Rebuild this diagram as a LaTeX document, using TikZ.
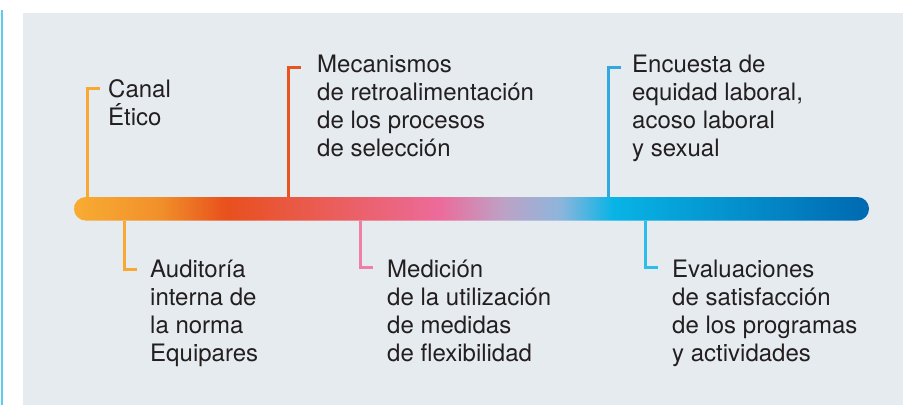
\documentclass[tikz,border=0pt]{standalone}
\usepackage{fontspec}
\setmainfont{TeX Gyre Heros}
\usepackage{xcolor}

\definecolor{panel}{HTML}{E6EBEF}
\definecolor{frameblue}{HTML}{5CCBF0}
\definecolor{txt}{HTML}{231F20}
\definecolor{tkorange}{HTML}{F9A933}
\definecolor{tkred}{HTML}{E9541E}
\definecolor{tkpink}{HTML}{EE7FA6}
\definecolor{tkblue}{HTML}{33A7E0}
\definecolor{tkcyan}{HTML}{2CBDEB}
% bar colours
\definecolor{sA}{HTML}{F8AC33}
\definecolor{sB}{HTML}{F1902A}
\definecolor{sC}{HTML}{E8501C}
\definecolor{sD}{HTML}{EC6B9B}
\definecolor{sE}{HTML}{BCA3C7}
\definecolor{sF}{HTML}{8DB5DC}
\definecolor{sG}{HTML}{08B4E6}
\definecolor{sH}{HTML}{0069B1}
\pgfdeclarehorizontalshading{barshade}{100bp}{color(0bp)=(sA); color(25bp)=(sA);
  color(30.4bp)=(sB); color(34.6bp)=(sC); color(48bp)=(sD); color(52.1bp)=(sE);
  color(55.6bp)=(sF); color(58.9bp)=(sG); color(75bp)=(sH); color(100bp)=(sH)}

\begin{document}
\begin{tikzpicture}[x=1pt,y=-1pt,
    tick/.style={line width=3pt,#1},
    timebar/.style={shading=barshade,rounded corners=11.7pt,minimum width=795pt,
        minimum height=23.5pt,inner sep=0pt},
    itemtext/.style={anchor=north west,inner sep=0pt,align=left,text=txt,
        font=\fontsize{24}{28}\selectfont}]
    \useasboundingbox (0,0) rectangle (903,405);
    % panel
    \fill[panel] (23,13) rectangle (903,405);
    \draw[frameblue,line width=2pt] (2,10) -- (2,405);
    % bar
    \node[timebar] (bar) at (471.5,208.8) {};
    % items
    \node[itemtext] (canal) at (108,73) {\rule{0pt}{24pt}Canal\\Ético};
    \node[itemtext] (meca) at (317,48) {\rule{0pt}{24pt}Mecanismos\\de retroalimentación\\de los procesos\\de selección};
    \node[itemtext] (encu) at (632,48) {\rule{0pt}{24pt}Encuesta de\\equidad laboral,\\acoso laboral\\y sexual};
    \node[itemtext] (audi) at (150,253) {\rule{0pt}{24pt}Auditoría\\interna de\\la norma\\Equipares};
    \node[itemtext] (medi) at (387,253) {\rule{0pt}{24pt}Medición\\de la utilización\\de medidas\\de flexibilidad};
    \node[itemtext] (eval) at (672,253) {\rule{0pt}{24pt}Evaluaciones\\de satisfacción\\de los programas\\y actividades};
    % ticks
    \coordinate (q1) at (87,88);
    \coordinate (q2) at (288,67);
    \coordinate (q3) at (608,67);
    \coordinate (q4) at (124,269);
    \coordinate (q5) at (360,267);
    \coordinate (q6) at (645,267);
    \foreach \c/\side/\col in {q1/north/tkorange,q2/north/tkred,q3/north/tkblue,
        q4/south/tkorange,q5/south/tkpink,q6/south/tkcyan} {
        \draw[tick=\col] (bar.\side -| \c) -- (\c) -- ++(13,0);
    }
\end{tikzpicture}
\end{document}
